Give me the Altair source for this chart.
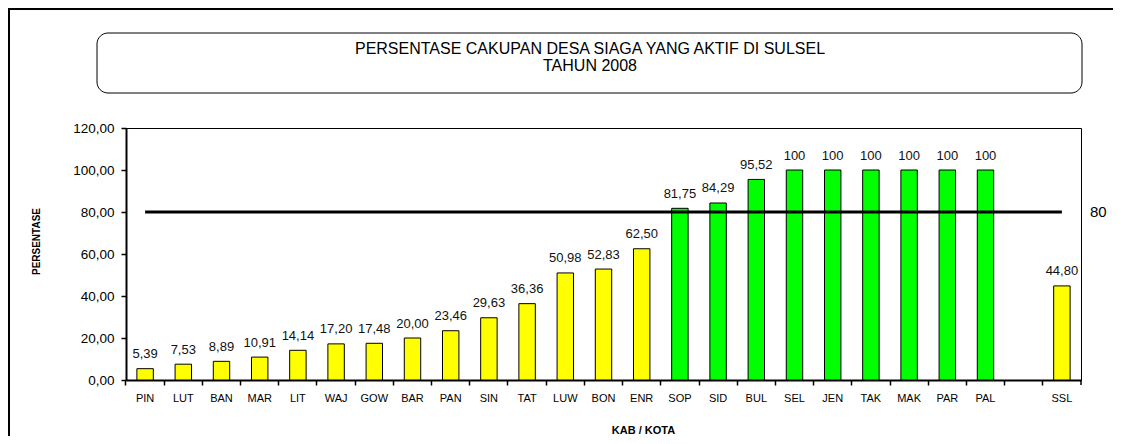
import altair as alt
import pandas as pd

categories = ["PIN", "LUT", "BAN", "MAR", "LIT", "WAJ", "GOW", "BAR", "PAN", "SIN",
              "TAT", "LUW", "BON", "ENR", "SOP", "SID", "BUL", "SEL", "JEN", "TAK",
              "MAK", "PAR", "PAL", " ", "SSL"]
values = [5.39, 7.53, 8.89, 10.91, 14.14, 17.20, 17.48, 20.00, 23.46, 29.63,
          36.36, 50.98, 52.83, 62.50, 81.75, 84.29, 95.52, 100, 100, 100,
          100, 100, 100, None, 44.80]
target = 80
y_ticks = [0, 20, 40, 60, 80, 100, 120]
title_lines = ["PERSENTASE CAKUPAN DESA SIAGA YANG AKTIF DI SULSEL", "TAHUN 2008"]


def fmt(v):
    if v == 100:
        return "100"
    return f"{v:.2f}".replace(".", ",")


rows = [{"cat": c, "val": v, "lab": fmt(v)} for c, v in zip(categories, values) if v is not None]
df = pd.DataFrame(rows)
df_line = pd.DataFrame({"cat": categories, "val": [target] * len(categories)})
df_last = pd.DataFrame({"cat": [categories[-1]]})

FONT = "Liberation Sans"
W, H = 955, 252

xscale = alt.Scale(domain=categories, paddingInner=0, paddingOuter=0)
x_axis = alt.Axis(
    title="KAB / KOTA", titleFontWeight="bold", titleFontSize=11,
    titleX=517, titleY=53, titleBaseline="alphabetic", titleAlign="center",
    labelAngle=0, labelFontSize=11, labelPadding=7, tickSize=5,
    bandPosition=0, grid=False, domainWidth=2, tickWidth=1.5,
    domainColor="black", tickColor="black", labelColor="black",
)
y_axis = alt.Axis(
    values=y_ticks,
    labelExpr="replace(format(datum.value, '.2f'), '.', ',')",
    title="PERSENTASE", titleFontWeight="bold", titleFontSize=10,
    titleX=-87, titleY=113, titleBaseline="alphabetic", titleAlign="center",
    titleAngle=270,
    labelFontSize=13.5, labelPadding=7, tickSize=5, grid=False,
    domainWidth=2, tickWidth=1.5, domainColor="black", tickColor="black",
    labelColor="black",
)
yscale = alt.Scale(domain=[0, 120], nice=False)

X = alt.X("cat:N", sort=categories, scale=xscale, axis=x_axis)
Y = alt.Y("val:Q", scale=yscale, axis=y_axis)

bars = alt.Chart(df).mark_bar(width={"band": 0.43}, stroke="black", strokeWidth=1).encode(
    x=X, y=Y,
    fill=alt.condition(alt.datum.val >= target, alt.value("#00FF00"), alt.value("#FFFF00")),
)

line80 = alt.Chart(df_line).mark_line(color="black", strokeWidth=3.2).encode(
    x=X, y=Y
)

labels = alt.Chart(df).mark_text(baseline="alphabetic", dy=-10.5, fontSize=13, color="#111").encode(
    x=X, y=Y, text="lab:N"
)

label80 = alt.Chart(pd.DataFrame({"val": [target], "lab": [str(target)]})).mark_text(
    align="left", baseline="middle", fontSize=15, color="black"
).encode(x=alt.value(964), y=Y, text="lab:N")

end_tick = alt.Chart(df_last).mark_rule(color="black", strokeWidth=1.5).encode(
    x=alt.X("cat:N", sort=categories, scale=xscale, bandPosition=1, axis=x_axis),
    y=alt.value(H), y2=alt.value(H + 5),
)

one = alt.Data(values=[{}])

frame_left = alt.Chart(one).mark_rule(color="black", strokeWidth=2).encode(
    x=alt.value(-117), y=alt.value(-120), y2=alt.value(H + 56)
)
frame_top = alt.Chart(one).mark_rule(color="black", strokeWidth=2).encode(
    x=alt.value(-118), x2=alt.value(W + 32), y=alt.value(-119)
)
title_box = alt.Chart(one).mark_rect(
    fill="white", stroke="black", strokeWidth=1, cornerRadius=11
).encode(
    x=alt.value(-29), x2=alt.value(956), y=alt.value(-95), y2=alt.value(-35)
)
title1 = alt.Chart(one).mark_text(
    text=title_lines[0], fontSize=16, align="center", baseline="alphabetic", color="black"
).encode(x=alt.value(464), y=alt.value(-74.5))
title2 = alt.Chart(one).mark_text(
    text=title_lines[1], fontSize=16, align="center", baseline="alphabetic", color="black"
).encode(x=alt.value(464), y=alt.value(-57))

chart = alt.layer(
    frame_left, frame_top, title_box, title1, title2, bars, line80, labels, label80, end_tick
).properties(
    width=W, height=H,
    autosize=alt.AutoSizeParams(type="none"),
    padding={"left": 118, "top": 120, "right": 32, "bottom": 56},
).configure(font=FONT, background="white").configure_view(stroke="black", strokeWidth=1)

chart.save("out.html", embed_options={"renderer": "svg", "actions": False})
